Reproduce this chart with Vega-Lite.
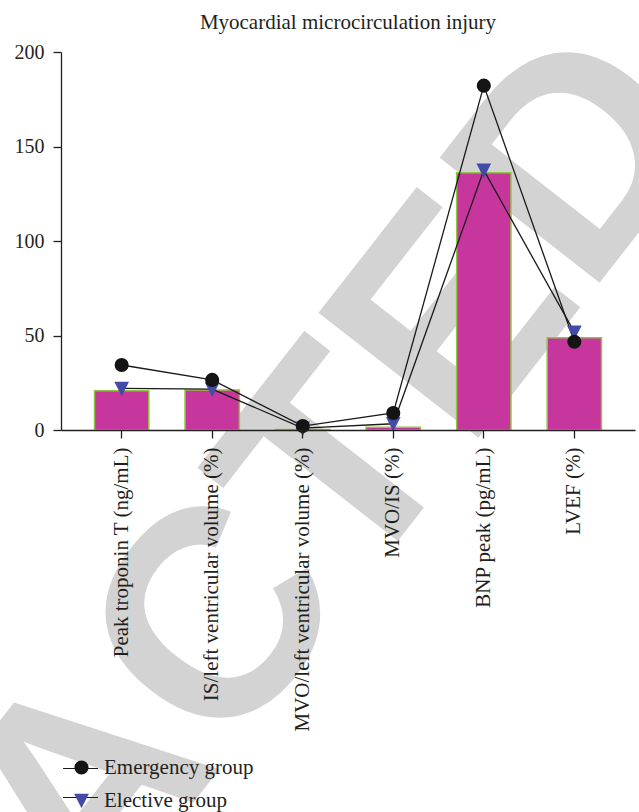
{
  "$schema": "https://vega.github.io/schema/vega-lite/v6.json",
  "width": 574,
  "height": 378,
  "autosize": {"type": "none"},
  "padding": {"left": 61, "top": 52, "right": 4, "bottom": 382},
  "background": "white",
  "title": {
    "text": "Myocardial microcirculation injury",
    "font": "Liberation Serif",
    "fontSize": 21,
    "fontWeight": "normal",
    "color": "#231f20",
    "anchor": "middle",
    "frame": "group",
    "offset": 20,
    "dy": 68
  },
  "config": {
    "view": {"stroke": null},
    "axis": {
      "domainColor": "#231f20",
      "domainWidth": 1.3,
      "tickColor": "#231f20",
      "tickWidth": 1.3,
      "tickSize": 8,
      "labelColor": "#231f20",
      "labelFont": "Liberation Serif",
      "labelFontSize": 21,
      "labelPadding": 9,
      "labelLimit": 0,
      "labelOverlap": false,
      "grid": false,
      "zindex": 1
    },
    "axisY": {"labelFontSize": 20},
    "legend": {
      "orient": "none",
      "padding": 0,
      "labelFont": "Liberation Serif",
      "labelFontSize": 21,
      "labelColor": "#231f20"
    }
  },
  "datasets": {
    "bars": [
      {"category": "Peak troponin T (ng/mL)", "value": 20.8},
      {"category": "IS/left ventricular volume (%)", "value": 21.2},
      {"category": "MVO/left ventricular volume (%)", "value": 0.3},
      {"category": "MVO/IS (%)", "value": 1.4},
      {"category": "BNP peak (pg/mL)", "value": 136.1},
      {"category": "LVEF (%)", "value": 48.8}
    ],
    "points": [
      {"group": "Elective group", "category": "Peak troponin T (ng/mL)", "value": 22.0},
      {"group": "Elective group", "category": "IS/left ventricular volume (%)", "value": 21.6},
      {"group": "Elective group", "category": "MVO/left ventricular volume (%)", "value": 1.0},
      {"group": "Elective group", "category": "MVO/IS (%)", "value": 3.3},
      {"group": "Elective group", "category": "BNP peak (pg/mL)", "value": 137.5},
      {"group": "Elective group", "category": "LVEF (%)", "value": 51.8},
      {"group": "Emergency group", "category": "Peak troponin T (ng/mL)", "value": 34.4},
      {"group": "Emergency group", "category": "IS/left ventricular volume (%)", "value": 26.5},
      {"group": "Emergency group", "category": "MVO/left ventricular volume (%)", "value": 2.1},
      {"group": "Emergency group", "category": "MVO/IS (%)", "value": 9.0},
      {"group": "Emergency group", "category": "BNP peak (pg/mL)", "value": 182.2},
      {"group": "Emergency group", "category": "LVEF (%)", "value": 46.7}
    ],
    "stamp": [{"label": "RETRACTED"}]
  },
  "layer": [
    {
      "data": {"name": "stamp"},
      "mark": {
        "type": "text",
        "font": "Liberation Sans",
        "fontWeight": "bold",
        "fontSize": 295,
        "angle": 308,
        "align": "center",
        "baseline": "alphabetic",
        "color": "#d3d3d3",
        "dx": 60
      },
      "encoding": {
        "x": {"datum": "Peak troponin T (ng/mL)", "type": "nominal", "title": null},
        "y": {"datum": -245.7, "type": "quantitative", "title": null},
        "text": {"field": "label", "type": "nominal"}
      }
    },
    {
      "data": {"name": "bars"},
      "mark": {"type": "bar", "fill": "#C6369D", "stroke": "#8DC63F", "strokeWidth": 1.5},
      "encoding": {
        "x": {
          "field": "category",
          "type": "nominal",
          "title": null,
          "sort": ["Peak troponin T (ng/mL)", "IS/left ventricular volume (%)", "MVO/left ventricular volume (%)", "MVO/IS (%)", "BNP peak (pg/mL)", "LVEF (%)"],
          "scale": {"paddingInner": 0.4, "paddingOuter": 0.37},
          "axis": {"labelAngle": 270, "labelAlign": "right", "labelBaseline": "middle", "zindex": 1}
        },
        "y": {
          "field": "value",
          "type": "quantitative",
          "title": null,
          "scale": {"domain": [0, 200], "nice": false},
          "axis": {"values": [0, 50, 100, 150, 200], "zindex": 1}
        }
      }
    },
    {
      "data": {"name": "points"},
      "mark": {"type": "line", "strokeWidth": 1.3},
      "encoding": {
        "x": {"field": "category", "type": "nominal", "title": null, "sort": ["Peak troponin T (ng/mL)", "IS/left ventricular volume (%)", "MVO/left ventricular volume (%)", "MVO/IS (%)", "BNP peak (pg/mL)", "LVEF (%)"]},
        "y": {"field": "value", "type": "quantitative", "title": null},
        "stroke": {
          "field": "group",
          "type": "nominal",
          "scale": {"domain": ["Elective group", "Emergency group"], "range": ["#1a1a1a", "#1a1a1a"]},
          "legend": {
            "title": null,
            "symbolType": "stroke",
            "symbolSize": 1225,
            "symbolStrokeWidth": 1.2,
            "labelExpr": "''",
            "legendX": 1,
            "legendY": 698,
            "rowPadding": -3,
            "zindex": 0
          }
        },
        "order": {"value": null}
      }
    },
    {
      "data": {"name": "points"},
      "mark": {"type": "point", "filled": true, "size": 200, "opacity": 1},
      "encoding": {
        "x": {"field": "category", "type": "nominal", "title": null, "sort": ["Peak troponin T (ng/mL)", "IS/left ventricular volume (%)", "MVO/left ventricular volume (%)", "MVO/IS (%)", "BNP peak (pg/mL)", "LVEF (%)"]},
        "y": {"field": "value", "type": "quantitative", "title": null},
        "shape": {
          "field": "group",
          "type": "nominal",
          "scale": {"domain": ["Emergency group", "Elective group"], "range": ["circle", "M-1.04,-0.95L1.04,-0.95L0,1.1Z"]},
          "legend": {"title": null, "legendX": 10, "legendY": 705, "symbolSize": 200, "labelOffset": 12, "rowPadding": 11, "zindex": 1}
        },
        "color": {
          "field": "group",
          "type": "nominal",
          "scale": {"domain": ["Emergency group", "Elective group"], "range": ["#141414", "#434AA8"]},
          "legend": {"title": null, "legendX": 10, "legendY": 705, "symbolSize": 200, "labelOffset": 12, "rowPadding": 11, "zindex": 1}
        }
      }
    }
  ]
}
